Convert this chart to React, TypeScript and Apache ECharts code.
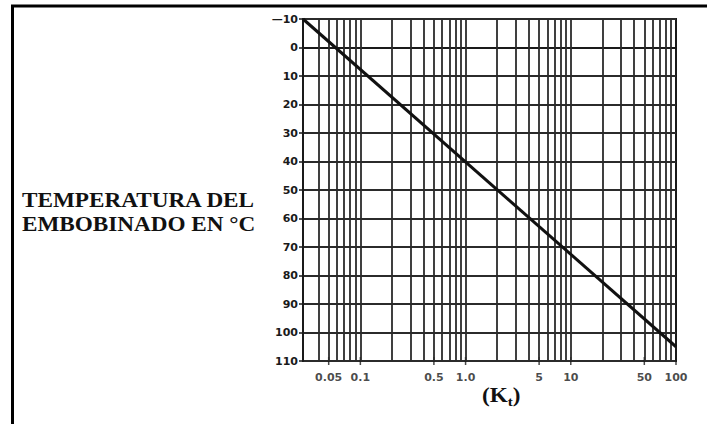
import React, { useEffect, useRef } from "react";
import * as echarts from "echarts";

// ---- data ----
const xMin = 0.0285;
const xMax = 100;
const yMin = -10;
const yMax = 110;
const yInterval = 10;

// winding temperature (°C) vs correction factor Kt
const lineKt = [0.0285, 100];
const lineTemp = [-10, 105];

// vertical log grid lines
const gridKt = [
  0.04, 0.05, 0.06, 0.07, 0.08, 0.09,
  0.1, 0.2, 0.3, 0.4, 0.5, 0.6, 0.7, 0.8, 0.9,
  1, 2, 3, 4, 5, 6, 7, 8, 9,
  10, 20, 30, 40, 50, 60, 70, 80, 90,
];

// labelled ticks on the Kt axis
const tickKt = [0.05, 0.1, 0.5, 1, 5, 10, 50, 100];
const tickLabels = ["0.05", "0.1", "0.5", "1.0", "5", "10", "50", "100"];

const yTitle = "TEMPERATURA DEL\nEMBOBINADO EN °C";

export default function App() {
  const ref = useRef<HTMLDivElement>(null);

  useEffect(() => {
    if (!ref.current) return;
    const chart = echarts.init(ref.current, null, { renderer: "svg" });
    const gridColor = "#2b2b2b";
    const tickFont = {
      fontFamily: "DejaVu Sans",
      fontWeight: "bold" as const,
      fontSize: 11,
      color: "#1a1a1a",
    };
    chart.setOption({
      animation: false,
      backgroundColor: "#fff",
      grid: {
        left: 303,
        top: 19,
        width: 373,
        height: 342,
        show: true,
        borderColor: "#1a1a1a",
        borderWidth: 2,
        backgroundColor: "transparent",
      },
      xAxis: {
        type: "log",
        logBase: 10,
        min: xMin,
        max: xMax,
        axisLabel: { show: false },
        axisTick: { show: false },
        splitLine: { show: false },
        minorSplitLine: { show: false },
        axisLine: { show: true, lineStyle: { color: "#1a1a1a", width: 2 } },
      },
      yAxis: {
        type: "value",
        inverse: true,
        min: yMin,
        max: yMax,
        interval: yInterval,
        axisLine: { show: true, lineStyle: { color: "#1a1a1a", width: 2 } },
        axisTick: {
          show: true,
          length: 4,
          lineStyle: { color: "#1a1a1a", width: 1.5 },
        },
        axisLabel: {
          ...tickFont,
          margin: 5,
          formatter: (v: number) => (v < 0 ? "—" + Math.abs(v) : String(v)),
        },
        splitLine: { show: true, lineStyle: { color: gridColor, width: 1.8 } },
      },
      series: [
        {
          type: "scatter",
          clip: false,
          silent: true,
          z: 2,
          symbol: "rect",
          symbolSize: [1.5, 8],
          itemStyle: { color: "#1a1a1a" },
          data: tickKt.map((k, i) => ({ value: [k, yMax], name: tickLabels[i] })),
          label: {
            show: true,
            position: "bottom",
            distance: 7,
            ...tickFont,
            formatter: (p: any) => p.name,
          },
          markLine: {
            silent: true,
            symbol: "none",
            label: { show: false },
            lineStyle: { color: gridColor, width: 1.8, type: "solid" },
            data: gridKt.map((k) => ({ xAxis: k })),
          },
        },
        {
          type: "line",
          z: 5,
          symbol: "none",
          silent: true,
          lineStyle: { color: "#111", width: 3 },
          data: lineKt.map((k, i) => [k, lineTemp[i]]),
        },
      ],
      graphic: [
        {
          type: "line",
          shape: { x1: 12.5, y1: 5, x2: 12.5, y2: 424 },
          style: { stroke: "#000", lineWidth: 3 },
        },
        {
          type: "line",
          shape: { x1: 11, y1: 6, x2: 707, y2: 6 },
          style: { stroke: "#000", lineWidth: 3 },
        },
        {
          type: "text",
          x: 22,
          y: 189,
          scaleX: 1.16,
          style: {
            text: yTitle,
            fontFamily: "Liberation Serif",
            fontWeight: "bold",
            fontSize: 20,
            lineHeight: 24,
            fill: "#111",
            textVerticalAlign: "top",
            textAlign: "left",
          },
        },
        {
          type: "group",
          x: 482,
          y: 386,
          scaleX: 1.16,
          children: [
            {
              type: "text",
              x: 0,
              y: 0,
              style: {
                text: "(K",
                fontFamily: "Liberation Serif",
                fontWeight: "bold",
                fontSize: 20,
                fill: "#111",
                textVerticalAlign: "top",
              },
            },
            {
              type: "text",
              x: 22.2,
              y: 9,
              style: {
                text: "t",
                fontFamily: "Liberation Serif",
                fontWeight: "bold",
                fontSize: 13,
                fill: "#111",
                textVerticalAlign: "top",
              },
            },
            {
              type: "text",
              x: 26.6,
              y: 0,
              style: {
                text: ")",
                fontFamily: "Liberation Serif",
                fontWeight: "bold",
                fontSize: 20,
                fill: "#111",
                textVerticalAlign: "top",
              },
            },
          ],
        },
      ],
    });
    return () => chart.dispose();
  }, []);

  return (
    <div
      ref={ref}
      style={{ position: "absolute", left: 0, top: 0, width: 707, height: 424 }}
    />
  );
}
